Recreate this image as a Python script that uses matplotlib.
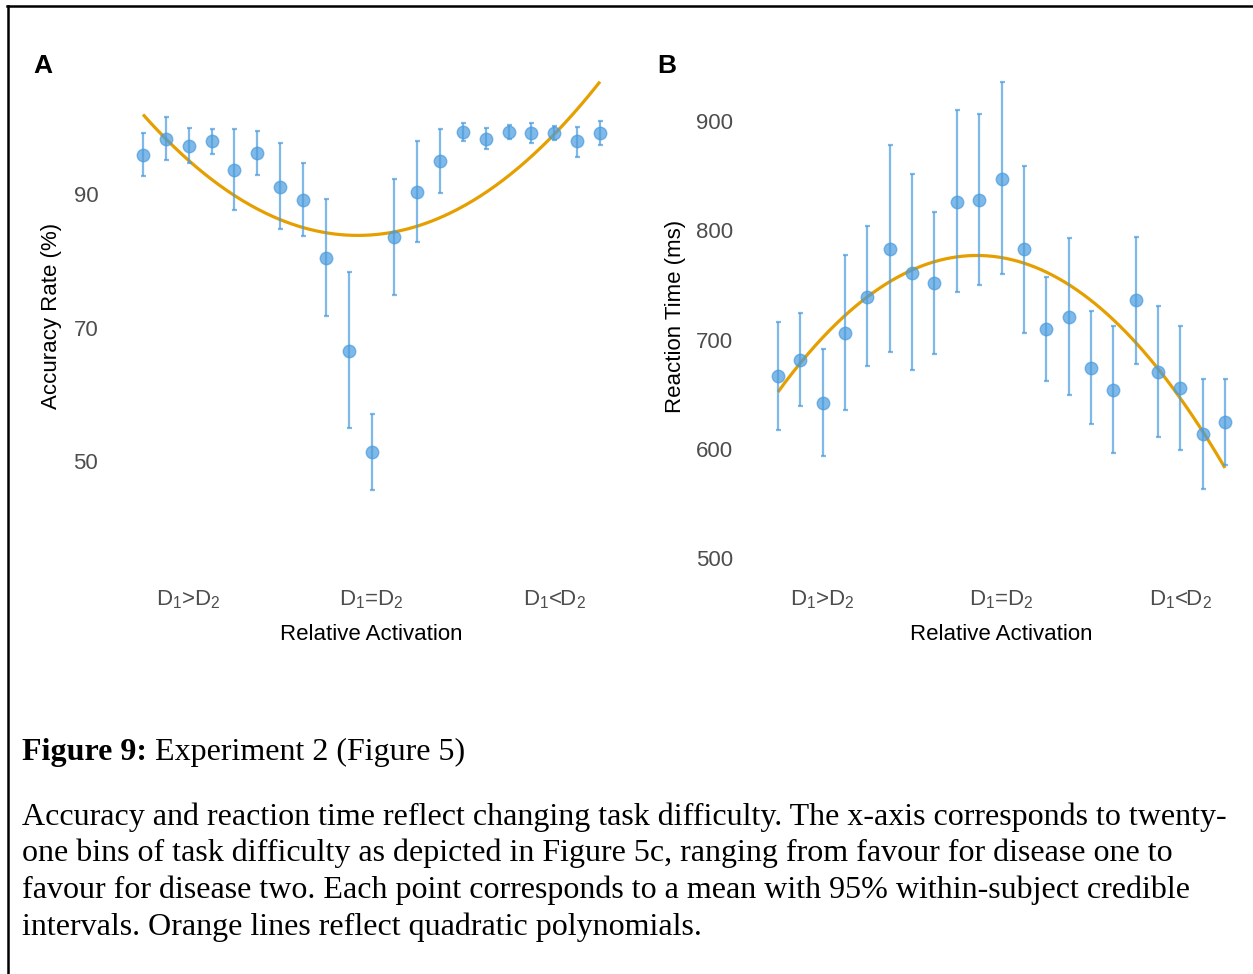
import numpy as np
import matplotlib
matplotlib.use("Agg")
import matplotlib.pyplot as plt
from matplotlib.lines import Line2D

# 21 bins of relative activation, labelled at three positions
bins = np.arange(1, 22)
tick_bins = [3, 11, 19]
tick_labels = [
    r"D$_\mathregular{1}$>D$_\mathregular{2}$",
    r"D$_\mathregular{1}$=D$_\mathregular{2}$",
    r"D$_\mathregular{1}$<D$_\mathregular{2}$",
]

# accuracy (%) with 95% within-subject credible intervals
acc_mean = [95.9, 98.3, 97.2, 97.9, 93.6, 96.1, 91.1, 89.1, 80.4, 66.5, 51.3,
            83.6, 90.3, 94.9, 99.3, 98.3, 99.3, 99.1, 99.2, 97.9, 99.1]
acc_low = [92.7, 95.1, 94.7, 96.0, 87.6, 92.9, 84.7, 83.7, 71.7, 54.9, 45.7,
           74.9, 82.8, 90.1, 98.0, 96.7, 98.2, 97.7, 98.1, 95.6, 97.3]
acc_high = [99.2, 101.6, 99.9, 99.8, 99.7, 99.4, 97.7, 94.6, 89.2, 78.3, 57.0,
            92.3, 97.9, 99.7, 100.6, 99.9, 100.4, 100.6, 100.2, 100.0, 101.0]

# reaction time (ms) with 95% within-subject credible intervals
rt_mean = [666.4, 681.3, 642.0, 706.3, 738.9, 783.0, 761.1, 751.4, 826.3, 827.5, 847.0,
           782.4, 709.6, 720.3, 674.3, 653.6, 735.8, 670.3, 655.7, 613.4, 624.3]
rt_low = [617.6, 639.0, 593.3, 635.9, 675.8, 688.9, 671.9, 686.8, 743.1, 750.1, 759.6,
          705.7, 662.4, 649.0, 622.8, 596.0, 677.9, 610.6, 599.1, 563.0, 584.7]
rt_high = [715.7, 724.2, 691.0, 777.6, 803.8, 877.8, 851.3, 816.8, 910.1, 906.1, 935.6,
           859.2, 756.8, 792.5, 726.1, 712.1, 794.0, 730.3, 712.7, 663.9, 663.9]

# quadratic fits (highest power first)
acc_poly = [0.205, -4.264, 105.97]
rt_poly = [-1.578, 31.24, 622.3]

acc_ticks = [50, 70, 90]
rt_ticks = [500, 600, 700, 800, 900]

W, H = 1253, 974
point_color = "#4A9CDE"
fit_color = "#E69F00"
tick_color = "#4D4D4D"

plt.rcParams["font.family"] = ["Liberation Sans", "DejaVu Sans"]
plt.rcParams["mathtext.fontset"] = "custom"
plt.rcParams["mathtext.rm"] = "Liberation Sans"

fig = plt.figure(figsize=(W / 100, H / 100), dpi=100)


def px_axes(left, right, top, bottom):
    return fig.add_axes([left / W, 1 - bottom / H, (right - left) / W, (bottom - top) / H])


def draw_panel(ax, mean, low, high, poly, yticks, ylim):
    mean = np.asarray(mean)
    yerr = [mean - np.asarray(low), np.asarray(high) - mean]
    xs = np.linspace(bins[0], bins[-1], 300)
    ax.plot(xs, np.polyval(poly, xs), color=fit_color, lw=2.3, zorder=2, solid_capstyle="butt")
    ax.errorbar(bins, mean, yerr=yerr, fmt="o", color=point_color, alpha=0.7,
                ms=9, elinewidth=1.6, capsize=1.8, capthick=1.6, zorder=3)
    ax.set_xlim(0.5, 21.5)
    ax.set_ylim(*ylim)
    ax.set_xticks(tick_bins)
    ax.set_xticklabels(tick_labels)
    ax.set_yticks(yticks)
    ax.tick_params(length=0, labelsize=16, labelcolor=tick_color)
    ax.tick_params(axis="x", pad=6)
    ax.tick_params(axis="y", pad=24)
    for s in ax.spines.values():
        s.set_visible(False)


ax_a = px_axes(131.6, 611.4, 75, 580)
draw_panel(ax_a, acc_mean, acc_low, acc_high, acc_poly, acc_ticks, (32.17, 107.83))

ax_b = px_axes(766.8, 1236.2, 75, 580)
draw_panel(ax_b, rt_mean, rt_low, rt_high, rt_poly, rt_ticks, (479.9, 942.1))


def ftext(x, y, s, **kw):
    return fig.text(x / W, 1 - y / H, s, **kw)


ftext(371.5, 634, "Relative Activation", ha="center", va="center", fontsize=16)
ftext(1001.5, 634, "Relative Activation", ha="center", va="center", fontsize=16)
ftext(52, 316, "Accuracy Rate (%)", ha="center", va="center", rotation=90, fontsize=16)
ftext(676, 316, "Reaction Time (ms)", ha="center", va="center", rotation=90, fontsize=16)
ftext(43, 66, "A", ha="center", va="center", fontsize=19, fontweight="bold")
ftext(667, 66, "B", ha="center", va="center", fontsize=19, fontweight="bold")

# caption
serif = ["Liberation Serif", "DejaVu Serif"]
head = ftext(22, 760, "Figure 9:", family=serif, fontsize=23, fontweight="bold", va="baseline")
fig.canvas.draw()
bb = head.get_window_extent(fig.canvas.get_renderer())
fig.text(bb.x1 / W, 1 - 760 / H, " Experiment 2 (Figure 5)", family=serif, fontsize=23, va="baseline")

caption_lines = [
    "Accuracy and reaction time reflect changing task difficulty. The x-axis corresponds to twenty-",
    "one bins of task difficulty as depicted in Figure 5c, ranging from favour for disease one to",
    "favour for disease two. Each point corresponds to a mean with 95% within-subject credible",
    "intervals. Orange lines reflect quadratic polynomials.",
]
for i, line in enumerate(caption_lines):
    ftext(22, 825 + 36.5 * i, line, family=serif, fontsize=23, va="baseline")

# frame around the figure (left and top edges)
fig.add_artist(Line2D([7.5 / W, 7.5 / W], [0, 1 - 5.5 / H], transform=fig.transFigure,
                      color="black", lw=1.8))
fig.add_artist(Line2D([6.6 / W, 1], [1 - 6 / H, 1 - 6 / H], transform=fig.transFigure,
                      color="black", lw=1.8))

fig.savefig("out.png", dpi=100, facecolor="white")
plt.close(fig)
